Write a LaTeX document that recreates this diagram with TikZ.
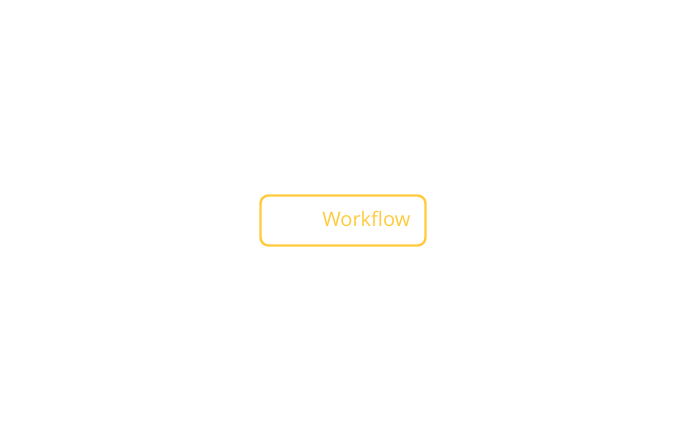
\documentclass[tikz,border=0pt]{standalone}
\usepackage{fontspec}
\setmainfont{Open Sans}
\definecolor{wfyellow}{HTML}{FFCB3D}
\begin{document}
\begin{tikzpicture}[x=1pt,y=-1pt,
  wfbox/.style={draw=wfyellow,line width=2.4pt,rounded corners=8pt,fill=white,minimum width=165pt,minimum height=50pt,inner sep=0pt},
  wftext/.style={text=wfyellow,font=\fontsize{20}{24}\selectfont,inner sep=0pt,anchor=east}]
\useasboundingbox[fill=white] (0,0) rectangle (700,447);
\node[wfbox] (box) at (343,220.5) {};
\node[wftext] (label) at (410.5,219) {Workflow};
\end{tikzpicture}
\end{document}
